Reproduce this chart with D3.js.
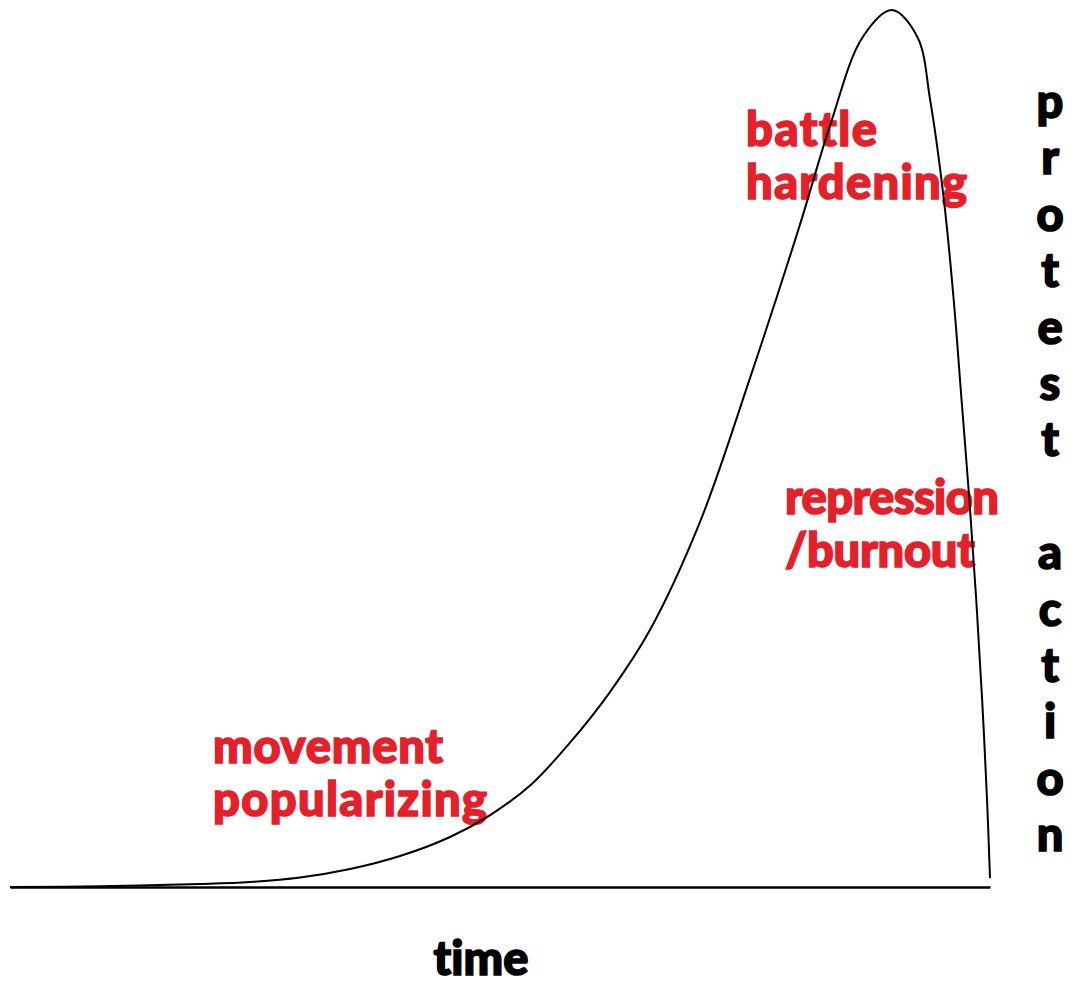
<!DOCTYPE html>
<html>

<head>
  <title>Protest action over time</title>
  <script src="https://cdn.jsdelivr.net/npm/d3@7"></script>
</head>

<body>
  <main id="container"></main>

  <script type="text/javascript">
    // curve: time (0-100) vs protest action (0-100)
    const timeValues = [0, 9.2, 19.4, 24.5, 29.6, 34.7, 39.8, 44.9, 49.0, 53.1, 57.1, 61.2, 65.3,
      70.4, 75.5, 80.6, 83.7, 87.0, 90.0, 92.6, 93.9, 95.3, 96.3, 97.1, 97.9, 98.6, 99.2, 99.7, 100];
    const protestValues = [0, 0.08, 0.34, 0.57, 1.08, 2.05, 3.53, 5.7, 8.2, 11.6, 16.4, 22.2, 29.3,
      41.6, 58.0, 75.5, 86.9, 96.9, 100, 96.9, 89.7, 78.3, 66.9, 55.5, 44.1, 32.7, 21.3, 9.9, 1.0];

    const phaseLabels = [
      ["battle", "hardening"],
      ["repression", "/burnout"],
      ["movement", "popularizing"],
    ];
    const xLabel = "time";
    const yLabel = "protest action";

    const vizWidth = 1075;
    const vizHeight = 986;
    const red = "#e4212b";
    const font = "Lato, 'DejaVu Sans', sans-serif";

    const svg = d3.select("#container")
      .append("svg")
      .attr("width", vizWidth)
      .attr("height", vizHeight)

    const x = d3.scaleLinear().domain([0, 100]).range([10, 990]);
    const y = d3.scaleLinear().domain([0, 100]).range([887, 10]);

    // bold heavy text helper
    function heavy(sel, color) {
      return sel
        .attr("font-family", font)
        .attr("font-weight", 900)
        .attr("font-size", 47)
        .attr("fill", color)
        .attr("stroke", color)
        .attr("stroke-width", 1.6)
        .style("font-variant-ligatures", "none")
    }

    // red phase labels (drawn under the curve)
    const labelPos = [[746, 146], [785, 514], [213, 763]];
    const labelWidths = [[131, 221], [214, 190], [230, 274]];
    phaseLabels.forEach((lines, i) => {
      svg.append("text")
        .call(heavy, red)
        .selectAll("tspan")
        .data(lines)
        .join("tspan")
        .attr("x", labelPos[i][0])
        .attr("y", (d, j) => labelPos[i][1] + j * 53)
        .attr("textLength", (d, j) => labelWidths[i][j])
        .attr("lengthAdjust", "spacing")
        .text(d => d)
    })

    // baseline
    svg.append("g")
      .attr("transform", `translate(0,${y(0)})`)
      .call(d3.axisBottom(x).ticks(0).tickSizeOuter(0))
      .call(g => g.select(".domain").attr("stroke", "#000").attr("stroke-width", 2.5))

    const points = timeValues.map((t, i) => [t, protestValues[i]]);
    const line = d3.line()
      .x(d => x(d[0]))
      .y(d => y(d[1]))
      .curve(d3.curveCatmullRom.alpha(0.5))

    svg.append("path")
      .datum(points)
      .attr("fill", "none")
      .attr("stroke", "#000")
      .attr("stroke-width", 2)
      .attr("d", line)

    // x label
    svg.append("text")
      .call(heavy, "#000")
      .attr("x", 481)
      .attr("y", 975)
      .attr("text-anchor", "middle")
      .text(xLabel)

    // y label, one letter per row
    svg.append("text")
      .call(heavy, "#000")
      .attr("text-anchor", "middle")
      .selectAll("tspan")
      .data(yLabel.split(""))
      .join("tspan")
      .attr("x", 1050)
      .attr("y", (d, i) => 118 + i * 56.4)
      .text(d => d)
  </script>
  <style>
    body {
      margin: 0;
      background: #fff;
    }
  </style>
</body>

</html>
